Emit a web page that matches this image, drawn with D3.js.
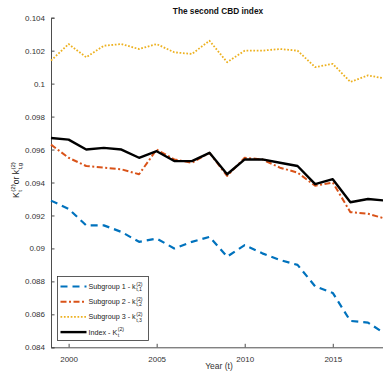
<!DOCTYPE html>
<html>
<head>
<meta charset="utf-8">
<script src="https://d3js.org/d3.v7.min.js"></script>
<style>
  body { margin: 0; background: #fff; }
  text { font-family: "Liberation Sans", Arial, sans-serif; }
</style>
</head>
<body>
<div id="chart"></div>
<script>

// data
var years = d3.range(1999, 2019);
var sub1 = [0.0929, 0.0924, 0.0914, 0.0914, 0.0910, 0.0904, 0.0906, 0.0900, 0.0904, 0.0907,
            0.0895, 0.0902, 0.0897, 0.0893, 0.0890, 0.0877, 0.0873, 0.0856, 0.0855, 0.0848];
var sub2 = [0.0963, 0.0955, 0.0950, 0.0949, 0.0948, 0.0945, 0.0960, 0.0954, 0.0952, 0.0958,
            0.0944, 0.0955, 0.0954, 0.0949, 0.0946, 0.0938, 0.0940, 0.0922, 0.0921, 0.0918];
var sub3 = [0.1014, 0.1024, 0.1016, 0.1023, 0.1024, 0.1021, 0.1024, 0.1019, 0.1018, 0.1026,
            0.1013, 0.1020, 0.1020, 0.1021, 0.1020, 0.1010, 0.1012, 0.1001, 0.1005, 0.1003];
var index = [0.0967, 0.0966, 0.0960, 0.0961, 0.0960, 0.0955, 0.0959, 0.0953, 0.0953, 0.0958,
             0.0945, 0.0954, 0.0954, 0.0952, 0.0950, 0.0939, 0.0942, 0.0928, 0.0930, 0.0929];
var yTicks = [0.084, 0.086, 0.088, 0.09, 0.092, 0.094, 0.096, 0.098, 0.1, 0.102, 0.104];
var xTicks = [2000, 2005, 2010, 2015];

var series = [
  {name: "Subgroup 1 - k", sub: "t,1", values: sub1, color: "#0072BD", width: 2.2, dash: "7,5"},
  {name: "Subgroup 2 - k", sub: "t,2", values: sub2, color: "#D95319", width: 2, dash: "6,2.5,2,2.5"},
  {name: "Subgroup 3 - k", sub: "t,3", values: sub3, color: "#EDB120", width: 1.8, dash: "1.7,1.7"},
  {name: "Index - K", sub: "t", values: index, color: "#000000", width: 2.4, dash: null}
];

var W = 383, H = 373;
var svg = d3.select("#chart").append("svg")
  .attr("width", W).attr("height", H);

var x = d3.scaleLinear().domain([1999, 2018]).range([51, 385.6]);
var y = d3.scaleLinear().domain([0.084, 0.104]).range([347.3, 17.7]);

var axisColor = "#4d4d4d";

// axes, ticks inside like matlab
var gx = svg.append("g")
  .attr("transform", "translate(0," + y(0.084) + ")")
  .call(d3.axisBottom(x).tickValues(xTicks).tickFormat(d3.format("d")).tickSize(-3.5).tickPadding(9));
var gy = svg.append("g")
  .attr("transform", "translate(" + x(1999) + ",0)")
  .call(d3.axisLeft(y).tickValues(yTicks).tickFormat(function(d) { return d3.format("")(+d.toFixed(3)); }).tickSize(-3.5).tickPadding(6));

[gx, gy].forEach(function(g) {
  g.select(".domain").attr("stroke", axisColor).attr("stroke-width", 1);
  g.selectAll(".tick line").attr("stroke", axisColor);
  g.selectAll(".tick text").attr("fill", "#333").attr("font-size", 8)
    .attr("font-family", "Liberation Sans, Arial, sans-serif");
});

// lines
var line = d3.line()
  .x(function(d, i) { return x(years[i]); })
  .y(function(d) { return y(d); });

series.forEach(function(s) {
  svg.append("path")
    .datum(s.values)
    .attr("fill", "none")
    .attr("stroke", s.color)
    .attr("stroke-width", s.width)
    .attr("stroke-dasharray", s.dash)
    .attr("stroke-linejoin", "round")
    .attr("d", line);
});

// writes pieces of text with stacked sub / superscripts, returns width
function mathText(g, pieces, size, x0) {
  var cx = x0;
  pieces.forEach(function(p) {
    var t = g.append("text").attr("x", cx).attr("y", 0)
      .attr("font-size", size).attr("fill", "#222").text(p.base);
    cx += t.node().getComputedTextLength() + 0.5;
    var w = 0;
    if (p.sub) {
      var s = g.append("text").attr("x", cx).attr("y", size * 0.3)
        .attr("font-size", size * 0.72).attr("fill", "#222").text(p.sub);
      w = Math.max(w, s.node().getComputedTextLength());
    }
    if (p.sup) {
      var u = g.append("text").attr("x", cx).attr("y", -size * 0.45)
        .attr("font-size", size * 0.72).attr("fill", "#222").text(p.sup);
      w = Math.max(w, u.node().getComputedTextLength());
    }
    cx += w;
  });
  return cx - x0;
}

// title
svg.append("text")
  .attr("x", 218).attr("y", 14)
  .attr("text-anchor", "middle")
  .attr("font-weight", "bold").attr("font-size", 8.3)
  .attr("fill", "#111")
  .text("The second CBD index");

// x label
svg.append("text")
  .attr("x", 219).attr("y", 369)
  .attr("text-anchor", "middle")
  .attr("font-size", 8.5).attr("fill", "#333")
  .text("Year (t)");

// y label, rotated
var yl = svg.append("g");
var ylw = mathText(yl, [
  {base: "K", sub: "t", sup: "(2)"},
  {base: " or k", sub: "t,g", sup: "(2)"}
], 8.5, 0);
yl.attr("transform", "translate(19," + (180 + ylw / 2) + ") rotate(-90)");

// legend
var lg = svg.append("g").attr("transform", "translate(57.5,276.5)");
lg.append("rect")
  .attr("width", 91).attr("height", 64)
  .attr("fill", "#fff").attr("stroke", "#333").attr("stroke-width", 0.8);

var rows = lg.selectAll(".row").data(series).enter().append("g")
  .attr("class", "row")
  .attr("transform", function(d, i) { return "translate(0," + (10 + i * 15.2) + ")"; });

rows.append("line")
  .attr("x1", 3).attr("x2", 29).attr("y1", 0).attr("y2", 0)
  .attr("stroke", function(d) { return d.color; })
  .attr("stroke-width", function(d) { return d.width; })
  .attr("stroke-dasharray", function(d) { return d.dash; });

rows.each(function(d) {
  var g = d3.select(this).append("g").attr("transform", "translate(31,2.5)");
  mathText(g, [{base: d.name, sub: d.sub, sup: "(2)"}], 7.2, 0);
});

</script>
</body>
</html>
